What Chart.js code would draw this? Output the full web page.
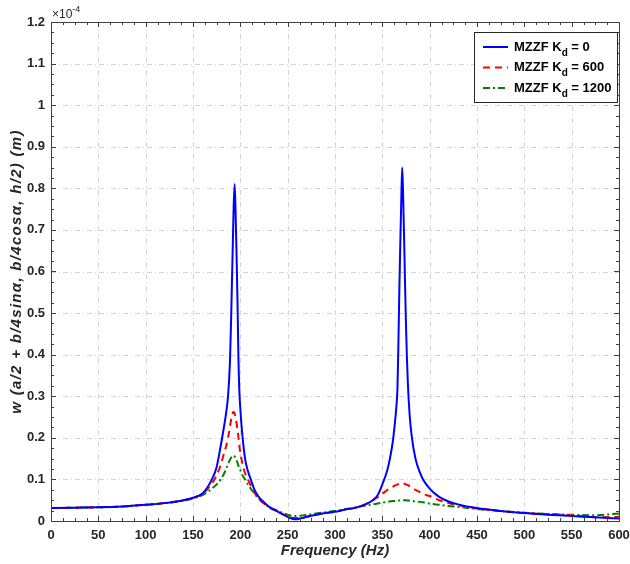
<!DOCTYPE html>
<html>
<head>
<meta charset="utf-8">
<script src="https://cdn.jsdelivr.net/npm/chart.js@4/dist/chart.umd.min.js"></script>
<style>
    html, body { margin: 0; padding: 0; background: #fff; }
    #wrap { width: 630px; height: 564px; position: relative; }
</style>
</head>
<body>
<div id="wrap"><canvas id="chart" width="630" height="564"></canvas></div>
<script>
// frequency (Hz) and amplitude in units of 1e-4 m
const freqs = [0, 25, 50, 75, 100, 120, 140, 150, 160, 170,
    175, 180, 183, 185, 187, 189, 190, 191, 192, 193,
    194, 195, 196, 197, 198, 199, 200, 202, 205, 208,
    211, 215, 220, 225, 230, 240, 250, 258, 265, 270,
    280, 290, 300, 310, 320, 330, 340, 345, 350, 352,
    355, 358, 361, 363, 365, 366, 367, 368, 369, 370,
    371, 372, 373, 374, 375, 376, 377, 379, 381, 385,
    390, 393, 400, 410, 420, 430, 450, 475, 500, 525,
    550, 575, 600];

const kd0 = [0.031, 0.032, 0.033, 0.035, 0.039, 0.043, 0.050, 0.056, 0.066, 0.100,
    0.13, 0.19, 0.23, 0.26, 0.30, 0.38, 0.46, 0.56, 0.66, 0.76,
    0.81, 0.74, 0.64, 0.53, 0.39, 0.31, 0.27, 0.21, 0.15, 0.12,
    0.10, 0.075, 0.056, 0.045, 0.035, 0.022, 0.010, 0.004, 0.007, 0.010,
    0.015, 0.019, 0.022, 0.027, 0.031, 0.038, 0.050, 0.062, 0.088, 0.10,
    0.12, 0.15, 0.19, 0.23, 0.28, 0.32, 0.43, 0.56, 0.67, 0.77,
    0.85, 0.78, 0.68, 0.57, 0.47, 0.39, 0.33, 0.25, 0.205, 0.15,
    0.115, 0.10, 0.078, 0.058, 0.047, 0.040, 0.031, 0.024, 0.019, 0.015,
    0.012, 0.009, 0.006];

const kd600 = [0.031, 0.032, 0.033, 0.035, 0.039, 0.043, 0.050, 0.056, 0.065, 0.090,
    0.11, 0.14, 0.165, 0.18, 0.20, 0.225, 0.24, 0.25, 0.26, 0.262,
    0.258, 0.25, 0.235, 0.22, 0.20, 0.18, 0.165, 0.14, 0.115, 0.10,
    0.085, 0.068, 0.052, 0.042, 0.033, 0.022, 0.012, 0.007, 0.007, 0.010,
    0.015, 0.019, 0.022, 0.027, 0.031, 0.038, 0.050, 0.057, 0.066, 0.069,
    0.074, 0.078, 0.082, 0.085, 0.087, 0.088, 0.089, 0.090, 0.090, 0.091,
    0.091, 0.091, 0.090, 0.089, 0.088, 0.087, 0.086, 0.083, 0.080, 0.075,
    0.069, 0.065, 0.060, 0.050, 0.043, 0.038, 0.030, 0.024, 0.019, 0.016,
    0.014, 0.009, 0.010];

const kd1200 = [0.031, 0.032, 0.033, 0.035, 0.039, 0.043, 0.049, 0.054, 0.062, 0.078,
    0.088, 0.103, 0.115, 0.125, 0.137, 0.147, 0.151, 0.155, 0.157, 0.157,
    0.155, 0.151, 0.146, 0.140, 0.133, 0.127, 0.122, 0.111, 0.100, 0.088,
    0.078, 0.066, 0.052, 0.042, 0.034, 0.024, 0.015, 0.012, 0.013, 0.015,
    0.018, 0.021, 0.024, 0.028, 0.032, 0.036, 0.040, 0.042, 0.044, 0.045,
    0.046, 0.047, 0.048, 0.048, 0.049, 0.049, 0.049, 0.049, 0.049, 0.050,
    0.050, 0.050, 0.050, 0.050, 0.050, 0.049, 0.049, 0.049, 0.048, 0.047,
    0.046, 0.045, 0.042, 0.039, 0.036, 0.034, 0.029, 0.024, 0.020, 0.017,
    0.015, 0.014, 0.018];

const seriesNames = ['0', '600', '1200'];
const seriesColors = ['#0000ff', '#ff0000', '#008000'];
const seriesDash = [[], [7, 5], [7, 3, 2, 3]];

const FONT = 'Arial, "Liberation Sans", sans-serif';
const TEXT = '#262626';
const yTitle = 'w (a/2 + b/4sinα, b/4cosα, h/2) (m)';

function toPoints(values) {
    return values.map((v, i) => ({x: freqs[i], y: v}));
}

const datasets = [kd0, kd600, kd1200].map((vals, i) => ({
    label: 'MZZF Kd = ' + seriesNames[i],
    data: toPoints(vals),
    borderColor: seriesColors[i],
    borderDash: seriesDash[i],
    borderWidth: 2,
    borderJoinStyle: 'round',
    cubicInterpolationMode: 'monotone',
    pointRadius: 0,
    fill: false
}));

// dash-dot grid behind the lines
const gridLines = {
    id: 'gridLines',
    beforeDatasetsDraw(chart) {
        const ctx = chart.ctx;
        const a = chart.chartArea;
        ctx.save();
        ctx.strokeStyle = '#d4d4d4';
        ctx.lineWidth = 1;
        ctx.setLineDash([5, 3, 1, 3]);
        ctx.beginPath();
        for (let v = 50; v < 600; v += 50) {
            const px = Math.round(chart.scales.x.getPixelForValue(v)) + 0.5;
            ctx.moveTo(px, a.top); ctx.lineTo(px, a.bottom);
        }
        for (let i = 1; i < 12; i++) {
            const py = Math.round(chart.scales.y.getPixelForValue(i / 10)) + 0.5;
            ctx.moveTo(a.left, py); ctx.lineTo(a.right, py);
        }
        ctx.stroke();
        ctx.restore();
    }
};

// minor ticks, box frame, exponent label, y title and legend
const decorations = {
    id: 'decorations',
    afterDatasetsDraw(chart) {
        const ctx = chart.ctx;
        const a = chart.chartArea;
        const xs = chart.scales.x;
        const ys = chart.scales.y;
        ctx.save();
        ctx.strokeStyle = '#404040';
        ctx.lineWidth = 1;
        ctx.setLineDash([]);

        ctx.beginPath();
        for (let i = 0; i <= 48; i++) {
            const px = Math.round(xs.getPixelForValue(i * 12.5)) + 0.5;
            const len = i % 4 === 0 ? 5 : 3;
            ctx.moveTo(px, a.bottom); ctx.lineTo(px, a.bottom - len);
            ctx.moveTo(px, a.top); ctx.lineTo(px, a.top + len);
        }
        for (let i = 0; i <= 48; i++) {
            const py = Math.round(ys.getPixelForValue(i * 0.025)) + 0.5;
            const len = i % 4 === 0 ? 5 : 3;
            ctx.moveTo(a.left, py); ctx.lineTo(a.left + len, py);
            ctx.moveTo(a.right, py); ctx.lineTo(a.right - len, py);
        }
        ctx.stroke();

        ctx.strokeRect(Math.round(a.left) + 0.5, Math.round(a.top) + 0.5,
            Math.round(a.right - a.left), Math.round(a.bottom - a.top));

        // x10^-4 multiplier
        ctx.fillStyle = TEXT;
        ctx.textBaseline = 'alphabetic';
        ctx.textAlign = 'left';
        ctx.font = '12px ' + FONT;
        ctx.fillText('×10', a.left + 1, a.top - 4);
        const w = ctx.measureText('×10').width;
        ctx.font = '9px ' + FONT;
        ctx.fillText('-4', a.left + 1 + w, a.top - 10);

        // y axis title, a little letter spaced
        ctx.save();
        ctx.translate(17, (a.top + a.bottom) / 2);
        ctx.rotate(-Math.PI / 2);
        ctx.font = 'italic bold 15px ' + FONT;
        ctx.letterSpacing = '1.3px';
        ctx.textAlign = 'center';
        ctx.textBaseline = 'middle';
        ctx.fillText(yTitle, 0, 0);
        ctx.restore();

        // legend
        const bw = 143, bh = 70;
        const bx = a.right - 2 - bw;
        const by = a.top + 10;
        ctx.fillStyle = '#fff';
        ctx.fillRect(bx, by, bw, bh);
        ctx.strokeStyle = '#262626';
        ctx.strokeRect(bx + 0.5, by + 0.5, bw, bh);
        seriesNames.forEach((name, i) => {
            const cy = by + 15 + i * 20.5;
            ctx.strokeStyle = seriesColors[i];
            ctx.lineWidth = 2;
            ctx.setLineDash(seriesDash[i]);
            ctx.beginPath();
            ctx.moveTo(bx + 9, cy);
            ctx.lineTo(bx + 34, cy);
            ctx.stroke();
            ctx.setLineDash([]);
            ctx.fillStyle = '#000';
            ctx.textBaseline = 'middle';
            ctx.font = 'bold 13px ' + FONT;
            let tx = bx + 40;
            ctx.fillText('MZZF K', tx, cy);
            tx += ctx.measureText('MZZF K').width;
            ctx.font = 'bold 10px ' + FONT;
            ctx.fillText('d', tx, cy + 6);
            tx += ctx.measureText('d').width;
            ctx.font = 'bold 13px ' + FONT;
            ctx.fillText(' = ' + name, tx, cy);
        });
        ctx.restore();
    }
};

new Chart(document.getElementById('chart'), {
    type: 'line',
    data: {datasets: datasets},
    plugins: [gridLines, decorations],
    options: {
        responsive: false,
        animation: false,
        devicePixelRatio: 1,
        layout: {padding: {top: 22, right: 11, left: 0, bottom: 0}},
        plugins: {legend: {display: false}, tooltip: {enabled: false}},
        scales: {
            x: {
                type: 'linear',
                min: 0,
                max: 600,
                afterFit: s => {
                    s.height = 43;
                    s.paddingLeft = 0;
                    s.paddingRight = 0;
                },
                ticks: {
                    stepSize: 50,
                    autoSkip: false,
                    padding: 7,
                    maxRotation: 0,
                    color: TEXT,
                    font: {family: FONT, size: 13, weight: 'bold'}
                },
                grid: {display: false, drawTicks: false},
                border: {display: false},
                title: {
                    display: true,
                    text: 'Frequency (Hz)',
                    color: TEXT,
                    padding: {top: 0, bottom: 4},
                    font: {family: FONT, size: 15, weight: 'bold', style: 'italic'}
                }
            },
            y: {
                type: 'linear',
                min: 0,
                max: 1.2,
                afterFit: s => { s.width = 51; },
                ticks: {
                    stepSize: 0.1,
                    autoSkip: false,
                    padding: 6,
                    color: TEXT,
                    font: {family: FONT, size: 13, weight: 'bold'},
                    callback: v => String(parseFloat(v.toFixed(2)))
                },
                grid: {display: false, drawTicks: false},
                border: {display: false}
            }
        }
    }
});
</script>
</body>
</html>
